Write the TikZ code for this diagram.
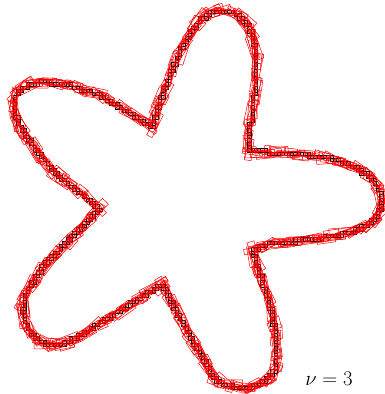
\documentclass[tikz,border=0pt]{standalone}
\newcommand\petalcells[3]{%
  \foreach \x/\y [remember=\x as \lx (initially #1), remember=\y as \ly (initially #2)] in {#3}{%
    \pgfmathsetmacro\seglen{veclen(\x-\lx,\y-\ly)}%
    \pgfmathtruncatemacro\ns{\seglen/1.2+1}%
    \foreach \k in {1,...,\ns}{%
      \pgfmathsetmacro\px{\lx+(\x-\lx)*\k/\ns}%
      \pgfmathsetmacro\py{\ly+(\y-\ly)*\k/\ns}%
      \pgfmathsetmacro\cx{3.3*floor(\px/3.3)}%
      \pgfmathsetmacro\cy{3.3*floor(\py/3.3)}%
      \path[cellbox] (\cx,\cy) rectangle ++(3.3,3.3);%
    }%
  }%
}
\newcommand\petalboxes[3]{%
  \foreach \x/\y [remember=\x as \lx (initially #1), remember=\y as \ly (initially #2)] in {#3}{%
    \pgfmathsetmacro\seglen{veclen(\x-\lx,\y-\ly)}%
    \pgfmathtruncatemacro\nr{\seglen/3+1}%
    \pgfmathsetmacro\sang{atan2(\y-\ly,\x-\lx)}%
    \foreach \k in {1,...,\nr}{%
      \pgfmathsetmacro\frac{(\k-rnd)/\nr}%
      \pgfmathsetmacro\px{\lx+(\x-\lx)*\frac}%
      \pgfmathsetmacro\py{\ly+(\y-\ly)*\frac}%
      \pgfmathsetmacro\ang{\sang+12*rand}%
      \pgfmathsetmacro\bl{3+10*rnd}%
      \pgfmathsetmacro\bh{1.2+3*rnd}%
      \pgfmathsetmacro\bo{3*rand}%
      \pgfmathsetmacro\ux{cos(\ang)}%
      \pgfmathsetmacro\uy{sin(\ang)}%
      \pgfmathsetmacro\qx{\px-\bo*\uy}%
      \pgfmathsetmacro\qy{\py+\bo*\ux}%
      \path[redbox] ({\qx+\bl*\ux-\bh*\uy},{\qy+\bl*\uy+\bh*\ux})
        -- ({\qx-\bl*\ux-\bh*\uy},{\qy-\bl*\uy+\bh*\ux})
        -- ({\qx-\bl*\ux+\bh*\uy},{\qy-\bl*\uy-\bh*\ux})
        -- ({\qx+\bl*\ux+\bh*\uy},{\qy+\bl*\uy-\bh*\ux}) -- cycle;%
    }%
  }%
}
\begin{document}
\begin{tikzpicture}[x=1pt,y=-1pt]
\tikzset{
  redbox/.style={draw=red,line width=0.5pt},
  cellbox/.style={draw=black,fill=gray!45,line width=0.5pt}
}
\pgfmathsetseed{7}
\useasboundingbox (0,0) rectangle (384,394);
\petalcells{152}{127}{158/108, 165/88, 173/67, 184/44, 196/25, 202/19, 209/14, 216/11, 224/10, 232/12, 240/16, 246/23, 251/32, 254/43, 256/55, 256/80, 253/105, 250/128, 248/151}
\petalcells{248}{151}{272/152, 300/154, 330/158, 353/166, 362/171, 370/177, 376/184, 380/192, 381.5/200, 381/207, 378/214, 372/221, 363/227, 352/232, 322/238, 295/241, 268/244, 252/250}
\petalcells{252}{250}{258/268, 265/290, 271/310, 275/330, 277/350, 276/366, 273/373, 268/378, 260/383, 250/387, 241/387.5, 232/386, 224/384, 217/380, 211/373, 207/364, 194/343, 181/320, 172/302, 163/284}
\petalcells{163}{284}{146/294, 128/306, 105/320, 85/333, 65/343, 55/345, 45/343, 36/338, 30/331, 25/321, 23/311, 24/300, 28/290, 42/268, 60/250, 80/230, 100/209}
\petalcells{100}{209}{80/193, 60/177, 40/155, 24/133, 18/122, 15/112, 14/104, 16/96, 20/90, 27/86, 35/83, 45/82, 70/85, 97/94, 120/107, 140/120, 152/127}
\petalboxes{152}{127}{158/108, 165/88, 173/67, 184/44, 196/25, 202/19, 209/14, 216/11, 224/10, 232/12, 240/16, 246/23, 251/32, 254/43, 256/55, 256/80, 253/105, 250/128, 248/151}
\petalboxes{248}{151}{272/152, 300/154, 330/158, 353/166, 362/171, 370/177, 376/184, 380/192, 381.5/200, 381/207, 378/214, 372/221, 363/227, 352/232, 322/238, 295/241, 268/244, 252/250}
\petalboxes{252}{250}{258/268, 265/290, 271/310, 275/330, 277/350, 276/366, 273/373, 268/378, 260/383, 250/387, 241/387.5, 232/386, 224/384, 217/380, 211/373, 207/364, 194/343, 181/320, 172/302, 163/284}
\petalboxes{163}{284}{146/294, 128/306, 105/320, 85/333, 65/343, 55/345, 45/343, 36/338, 30/331, 25/321, 23/311, 24/300, 28/290, 42/268, 60/250, 80/230, 100/209}
\petalboxes{100}{209}{80/193, 60/177, 40/155, 24/133, 18/122, 15/112, 14/104, 16/96, 20/90, 27/86, 35/83, 45/82, 70/85, 97/94, 120/107, 140/120, 152/127}
\node[font=\fontsize{20}{24}\selectfont,inner sep=0pt] (lbl) at (329,379) {$\nu=3$};
\end{tikzpicture}
\end{document}
